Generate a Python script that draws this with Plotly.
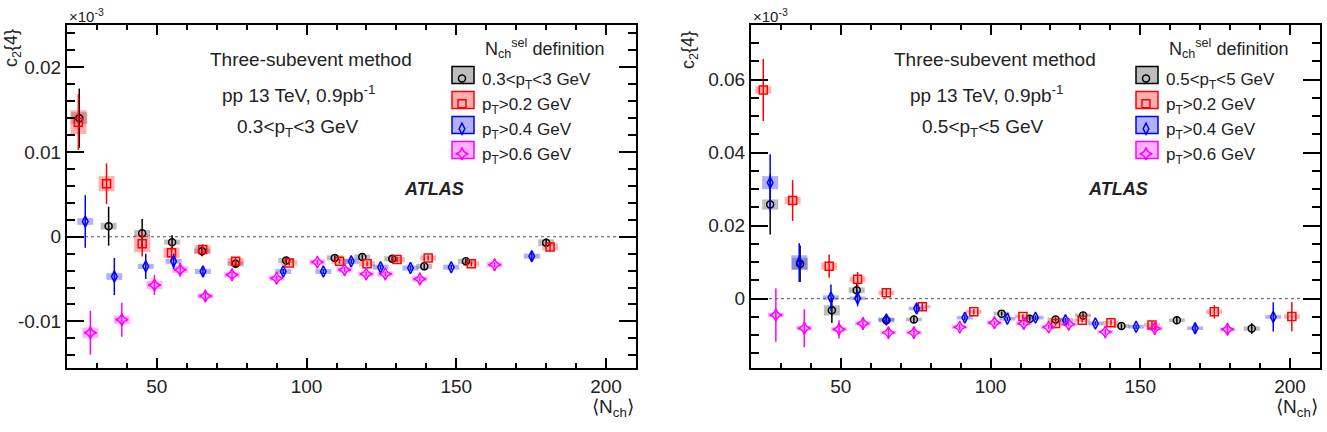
import plotly.graph_objects as go

# ---------------- data: left panel (0.3<pT<3 GeV) ----------------
L_blk_x = [24.1, 33.9, 45.1, 55.1, 65.1, 76.3, 93.2, 109.4, 118.6, 128.6, 139.3, 153.2, 180.0]
L_blk_y = [0.0140, 0.00125, 0.0004, -0.00064, -0.0017, -0.0032, -0.0028, -0.0025, -0.0024, -0.0026, -0.0035, -0.0029, -0.0007]
L_blk_e = [0.0035, 0.0023, 0.0017, 0.0008, 0.0006, 0.0004, 0.0003, 0.0003, 0.0003, 0.0003, 0.0003, 0.0003, 0.0005]
L_blk_s = [0.0007, 0.0004, 0.0004, 0.0003, 0.0003, 0.0003, 0.0003, 0.0003, 0.0003, 0.0003, 0.0003, 0.0003, 0.0004]

L_red_x = [23.8, 33.2, 45.1, 54.9, 65.3, 76.3, 94.2, 111.0, 120.2, 130.2, 140.6, 155.0, 181.3]
L_red_y = [0.01353, 0.00626, -0.00083, -0.0019, -0.0015, -0.0029, -0.0031, -0.0029, -0.0032, -0.0027, -0.0025, -0.0032, -0.0012]
L_red_e = [0.0033, 0.0024, 0.0015, 0.0009, 0.0006, 0.0004, 0.0003, 0.0003, 0.0003, 0.0003, 0.0003, 0.0003, 0.0005]
L_red_s = [0.0014, 0.0009, 0.0010, 0.0006, 0.0005, 0.0004, 0.0003, 0.0003, 0.0003, 0.0003, 0.0003, 0.0003, 0.0004]

L_blu_x = [26.1, 35.8, 46.3, 55.6, 65.4, 92.2, 105.6, 114.9, 124.7, 134.7, 148.3, 175.2]
L_blu_y = [0.0018, -0.0047, -0.0035, -0.0029, -0.0041, -0.0041, -0.0041, -0.0029, -0.0036, -0.0037, -0.0036, -0.0023]
L_blu_e = [0.0031, 0.0022, 0.0015, 0.0009, 0.0006, 0.0003, 0.0003, 0.0003, 0.0003, 0.0003, 0.0003, 0.0005]
L_blu_s = [0.0004, 0.0004, 0.0003, 0.0003, 0.0003, 0.0003, 0.0003, 0.0003, 0.0003, 0.0003, 0.0003, 0.0003]

L_mag_x = [27.8, 38.3, 49.2, 57.8, 66.2, 75.1, 90.0, 103.6, 112.7, 119.9, 126.3, 137.8, 162.8]
L_mag_y = [-0.01134, -0.0098, -0.0057, -0.0039, -0.0070, -0.0045, -0.0049, -0.0030, -0.0039, -0.0044, -0.0044, -0.0050, -0.0033]
L_mag_e = [0.0026, 0.0020, 0.0012, 0.0008, 0.0006, 0.0004, 0.0003, 0.0003, 0.0003, 0.0003, 0.0003, 0.0003, 0.0003]
L_mag_s = [0.0006, 0.0005, 0.0005, 0.0004, 0.0003, 0.0003, 0.0003, 0.0003, 0.0003, 0.0003, 0.0003, 0.0003, 0.0003]

# ---------------- data: right panel (0.5<pT<5 GeV) ----------------
R_blk_x = [26.4, 36.4, 47.0, 55.3, 65.2, 74.4, 103.7, 113.1, 121.7, 130.9, 143.7, 162.2, 187.2]
R_blk_y = [0.0258, 0.0096, -0.0032, 0.0023, -0.0059, -0.0057, -0.0041, -0.0055, -0.0057, -0.0046, -0.0075, -0.0059, -0.0082]
R_blk_e = [0.0082, 0.0050, 0.0035, 0.0020, 0.0012, 0.0010, 0.0006, 0.0006, 0.0006, 0.0006, 0.0008, 0.0010, 0.0015]
R_blk_s = [0.0014, 0.0016, 0.0014, 0.0008, 0.0006, 0.0005, 0.0005, 0.0005, 0.0005, 0.0005, 0.0005, 0.0005, 0.0006]

R_red_x = [24.1, 33.9, 46.1, 55.6, 65.2, 77.2, 94.4, 110.8, 121.7, 130.6, 140.2, 153.9, 174.7, 200.6]
R_red_y = [0.0572, 0.0269, 0.0089, 0.0053, 0.0016, -0.0022, -0.0036, -0.0049, -0.0068, -0.0059, -0.0066, -0.0072, -0.0036, -0.0049]
R_red_e = [0.0085, 0.0056, 0.0032, 0.0020, 0.0012, 0.0010, 0.0008, 0.0006, 0.0006, 0.0006, 0.0008, 0.0010, 0.0018, 0.0040]
R_red_s = [0.0010, 0.0010, 0.0010, 0.0008, 0.0006, 0.0005, 0.0005, 0.0005, 0.0005, 0.0005, 0.0005, 0.0005, 0.0006, 0.0006]

R_blu_x = [26.4, 36.1, 46.7, 55.6, 65.2, 75.3, 91.4, 105.6, 115.0, 125.0, 135.0, 148.6, 168.3, 194.4]
R_blu_y = [0.0318, 0.0099, 0.0003, 0.0001, -0.0057, -0.0027, -0.0052, -0.0055, -0.0052, -0.0059, -0.0068, -0.0077, -0.0081, -0.0050]
R_blu_e = [0.0078, 0.0053, 0.0036, 0.0022, 0.0012, 0.0010, 0.0008, 0.0006, 0.0006, 0.0006, 0.0006, 0.0006, 0.0012, 0.0040]
R_blu_s = [0.0018, 0.0020, 0.0006, 0.0005, 0.0005, 0.0005, 0.0005, 0.0005, 0.0005, 0.0005, 0.0005, 0.0005, 0.0005, 0.0005]

R_mag_x = [28.3, 37.8, 49.4, 57.4, 65.9, 74.4, 89.7, 101.3, 111.1, 119.4, 126.1, 138.3, 154.8, 179.1]
R_mag_y = [-0.0045, -0.0081, -0.0084, -0.0068, -0.0093, -0.0093, -0.0078, -0.0066, -0.0068, -0.0078, -0.0070, -0.0091, -0.0082, -0.0084]
R_mag_e = [0.0073, 0.0052, 0.0025, 0.0015, 0.0012, 0.0010, 0.0008, 0.0006, 0.0006, 0.0006, 0.0006, 0.0008, 0.0008, 0.0010]
R_mag_s = [0.0006, 0.0006, 0.0006, 0.0006, 0.0005, 0.0005, 0.0005, 0.0005, 0.0005, 0.0005, 0.0005, 0.0005, 0.0005, 0.0005]

L_labels = ["0.3&lt;p<sub>T</sub>&lt;3 GeV", "p<sub>T</sub>&gt;0.2 GeV", "p<sub>T</sub>&gt;0.4 GeV", "p<sub>T</sub>&gt;0.6 GeV"]
R_labels = ["0.5&lt;p<sub>T</sub>&lt;5 GeV", "p<sub>T</sub>&gt;0.2 GeV", "p<sub>T</sub>&gt;0.4 GeV", "p<sub>T</sub>&gt;0.6 GeV"]

L_ytickvals = [-0.01, 0, 0.01, 0.02]
L_yticktext = ["-0.01", "0", "0.01", "0.02"]
R_ytickvals = [0, 0.02, 0.04, 0.06]
R_yticktext = ["0", "0.02", "0.04", "0.06"]
xtickvals = [50, 100, 150, 200]
xticktext = ["50", "100", "150", "200"]

# ---------------- styles ----------------
FONT = "Liberation Sans, Arial, sans-serif"
TXT = "#222"
colors = ["#000000", "#ff0000", "#0000ff", "#ff00ff"]
fills = ["rgba(90,90,90,0.40)", "rgba(255,60,60,0.40)", "rgba(60,60,255,0.40)", "rgba(255,60,255,0.40)"]
symbols = ["circle-open", "square-open", "diamond-tall-open", "star-diamond-open"]
msizes = [7, 8, 8, 9]

fig = go.Figure()

panels = [
    ("x", "y", "legend", L_labels,
     [(L_blk_x, L_blk_y, L_blk_e, L_blk_s), (L_red_x, L_red_y, L_red_e, L_red_s),
      (L_blu_x, L_blu_y, L_blu_e, L_blu_s), (L_mag_x, L_mag_y, L_mag_e, L_mag_s)]),
    ("x2", "y2", "legend2", R_labels,
     [(R_blk_x, R_blk_y, R_blk_e, R_blk_s), (R_red_x, R_red_y, R_red_e, R_red_s),
      (R_blu_x, R_blu_y, R_blu_e, R_blu_s), (R_mag_x, R_mag_y, R_mag_e, R_mag_s)]),
]

for xa, ya, lg, labels, series in panels:
    # systematic boxes first
    for i, (xs, ys, es, ss) in enumerate(series):
        fig.add_trace(go.Scatter(
            x=xs, y=ys, xaxis=xa, yaxis=ya, mode="markers",
            marker=dict(size=1, color="rgba(0,0,0,0)"),
            error_y=dict(type="data", array=ss, color=fills[i], thickness=16, width=0),
            showlegend=False, hoverinfo="skip"))
    for i, (xs, ys, es, ss) in enumerate(series):
        fig.add_trace(go.Scatter(
            x=xs, y=ys, xaxis=xa, yaxis=ya, mode="markers",
            marker=dict(symbol=symbols[i], size=msizes[i], color=colors[i],
                        line=dict(width=1.5, color=colors[i])),
            error_y=dict(type="data", array=es, color=colors[i], thickness=1.5, width=0),
            name=labels[i], legend=lg, showlegend=True))

W, H = 1327, 432
def px(x):
    return x / W
def py(y):
    return 1 - y / H

ydom = [py(368), py(25)]
axis_common = dict(showline=True, linecolor="black", linewidth=2, mirror="allticks",
                   ticks="inside", tickcolor="black", tickwidth=1.5, showgrid=False,
                   zeroline=False, tickfont=dict(family=FONT, size=19, color=TXT))

xax = dict(axis_common, range=[20, 210], tickvals=xtickvals, ticktext=xticktext, ticklen=10,
           minor=dict(ticks="inside", dtick=10, tick0=0, ticklen=5, tickwidth=1.5, tickcolor="black", showgrid=False))
fig.update_layout(
    xaxis=dict(xax, domain=[px(67), px(636)], anchor="y"),
    xaxis2=dict(xax, domain=[px(751), px(1320)], anchor="y2"),
    yaxis=dict(axis_common, domain=ydom, anchor="x", range=[-0.0155, 0.025],
               tickvals=L_ytickvals, ticktext=L_yticktext, ticklen=17,
               minor=dict(ticks="inside", dtick=0.002, tick0=0, ticklen=8, tickwidth=1.5, tickcolor="black", showgrid=False)),
    yaxis2=dict(axis_common, domain=ydom, anchor="x2", range=[-0.019, 0.075],
                tickvals=R_ytickvals, ticktext=R_yticktext, ticklen=17,
                minor=dict(ticks="inside", dtick=0.005, tick0=0, ticklen=8, tickwidth=1.5, tickcolor="black", showgrid=False)),
    width=W, height=H, margin=dict(l=0, r=0, t=0, b=0),
    paper_bgcolor="white", plot_bgcolor="white",
    font=dict(family=FONT, size=17, color=TXT),
    legend=dict(x=px(442), y=py(61), xanchor="left", yanchor="top", bgcolor="rgba(0,0,0,0)",
                font=dict(family=FONT, size=17, color=TXT), itemwidth=30),
    legend2=dict(x=px(1126), y=py(61), xanchor="left", yanchor="top", bgcolor="rgba(0,0,0,0)",
                 font=dict(family=FONT, size=17, color=TXT), itemwidth=30),
)

# zero dotted lines
shapes = []
for xa, ya in [("x", "y"), ("x2", "y2")]:
    shapes.append(dict(type="line", xref=xa + " domain", yref=ya, x0=0, x1=1, y0=0, y1=0,
                       line=dict(color="#555", width=1, dash="dot"), layer="below"))

# legend boxes (behind legend symbols)
box_centers_y = [75.0, 100.0, 125.0, 150.0]
for bx0, bx1 in [(452, 474), (1136, 1158)]:
    for i, cy in enumerate(box_centers_y):
        shapes.append(dict(type="rect", xref="paper", yref="paper",
                           x0=px(bx0), x1=px(bx1), y0=py(cy + 8.5), y1=py(cy - 8.5),
                           fillcolor=fills[i], line=dict(color=colors[i], width=1.5), layer="below"))
fig.update_layout(shapes=shapes)

ann = []
def text(x, y, t, size=19, xanchor="center", **kw):
    ann.append(dict(x=px(x), y=py(y), xref="paper", yref="paper", text=t, showarrow=False,
                    xanchor=xanchor, yanchor="middle", font=dict(family=FONT, size=size, color=TXT), **kw))

# left panel texts
text(311, 60, "Three-subevent method")
text(298, 94, "pp 13 TeV, 0.9pb<sup>-1</sup>")
text(297, 128, "0.3&lt;p<sub>T</sub>&lt;3 GeV")
text(483, 48, "N<sub>ch</sub><sup>sel</sup> definition", size=18, xanchor="left")
text(434, 189, "<b><i>ATLAS</i></b>", size=18)
text(67, 16, "×10<sup>-3</sup>", size=15, xanchor="left")
text(12, 48, "c<sub>2</sub>{4}", size=18, textangle=-90)
text(636, 408, "⟨N<sub>ch</sub>⟩", xanchor="right")
# right panel texts
text(995, 60, "Three-subevent method")
text(986, 94, "pp 13 TeV, 0.9pb<sup>-1</sup>")
text(982, 128, "0.5&lt;p<sub>T</sub>&lt;5 GeV")
text(1167, 48, "N<sub>ch</sub><sup>sel</sup> definition", size=18, xanchor="left")
text(1118, 189, "<b><i>ATLAS</i></b>", size=18)
text(751, 16, "×10<sup>-3</sup>", size=15, xanchor="left")
text(690, 50, "c<sub>2</sub>{4}", size=18, textangle=-90)
text(1320, 408, "⟨N<sub>ch</sub>⟩", xanchor="right")
fig.update_layout(annotations=ann)

fig.write_html("out.html")
